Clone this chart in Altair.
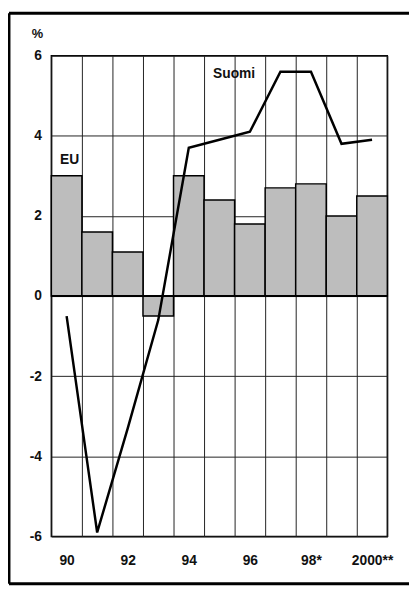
import altair as alt
import pandas as pd

years = ["1990", "1991", "1992", "1993", "1994", "1995", "1996", "1997", "1998", "1999", "2000"]
year_labels = ["90", "", "92", "", "94", "", "96", "", "98*", "", "2000**"]
eu = [3.0, 1.6, 1.1, -0.5, 3.0, 2.4, 1.8, 2.7, 2.8, 2.0, 2.5]
suomi = [-0.5, -5.9, -3.3, -0.6, 3.7, 3.9, 4.1, 5.6, 5.6, 3.8, 3.9]
y_ticks = [-6, -4, -2, 0, 2, 4, 6]

df = pd.DataFrame({"year": years, "eu": eu, "suomi": suomi})
label_map = "{" + ",".join(f"'{y}':'{l}'" for y, l in zip(years, year_labels)) + "}"

FONT = "Liberation Sans"

x = alt.X("year:O", title=None,
          scale=alt.Scale(paddingInner=0, paddingOuter=0),
          axis=alt.Axis(labelExpr=f"{label_map}[datum.value]", labelAngle=0,
                        tickBand="extent", grid=True, gridColor="#222", gridWidth=1,
                        ticks=False, domain=False, labelPadding=17,
                        labelFont=FONT, labelFontSize=14, labelFontWeight="bold",
                        labelColor="#111"))
y_scale = alt.Scale(domain=[-6, 6], nice=False)
y_axis = alt.Axis(values=y_ticks, labelExpr="datum.value + ''", grid=True, gridColor="#222",
                  gridWidth=1, ticks=False, domain=False, labelPadding=10, title=None,
                  labelFont=FONT, labelFontSize=14, labelFontWeight="bold",
                  labelColor="#111")

base = alt.Chart(df)

bars = base.mark_bar(color="#bdbdbd", stroke="black", strokeWidth=1.5).encode(
    x=x,
    y=alt.Y("eu:Q", scale=y_scale, axis=y_axis),
)

zero = alt.Chart(pd.DataFrame({"z": [0]})).mark_rule(color="black", strokeWidth=2).encode(
    y=alt.Y("z:Q", scale=y_scale)
)

line = base.mark_line(color="black", strokeWidth=2.5).encode(
    x=x,
    y=alt.Y("suomi:Q", scale=y_scale),
)

eu_txt = alt.Chart(pd.DataFrame({"year": ["1990"], "v": [3.4], "t": ["EU"]})).mark_text(
    font=FONT, fontSize=14, fontWeight="bold", color="#111", baseline="middle", dx=3).encode(
    x=alt.X("year:O"), y=alt.Y("v:Q", scale=y_scale), text="t:N")
suomi_txt = alt.Chart(pd.DataFrame({"year": ["1996"], "v": [5.55], "t": ["Suomi"]})).mark_text(
    font=FONT, fontSize=14, fontWeight="bold", color="#111", baseline="middle", dx=-16).encode(
    x=alt.X("year:O"), y=alt.Y("v:Q", scale=y_scale), text="t:N")

pct = alt.Chart(pd.DataFrame({"t": ["%"]})).mark_text(font=FONT, fontSize=13, fontWeight="bold",
                                                      color="#111").encode(
    x=alt.value(-14), y=alt.value(-22), text="t:N")

frame_left = alt.Chart(pd.DataFrame({"a": [0]})).mark_rule(color="black", strokeWidth=3).encode(
    x=alt.value(-43), y=alt.value(-43), y2=alt.value(536))
frame_top = alt.Chart(pd.DataFrame({"a": [0]})).mark_rule(color="black", strokeWidth=3).encode(
    x=alt.value(-43), x2=alt.value(380), y=alt.value(-43))
frame_bottom = alt.Chart(pd.DataFrame({"a": [0]})).mark_rule(color="black", strokeWidth=3).encode(
    x=alt.value(-43), x2=alt.value(380), y=alt.value(536))

chart = alt.layer(bars, zero, line, eu_txt, suomi_txt, pct, frame_left, frame_top, frame_bottom).properties(
    width=341, height=488,
    background="white",
    autosize=alt.AutoSizeParams(type="none"),
    padding={"left": 44, "top": 44, "right": 22, "bottom": 52},
).configure_view(stroke="black", strokeWidth=1.5)

chart.save("out.html", embed_options={"renderer": "svg", "actions": False})
